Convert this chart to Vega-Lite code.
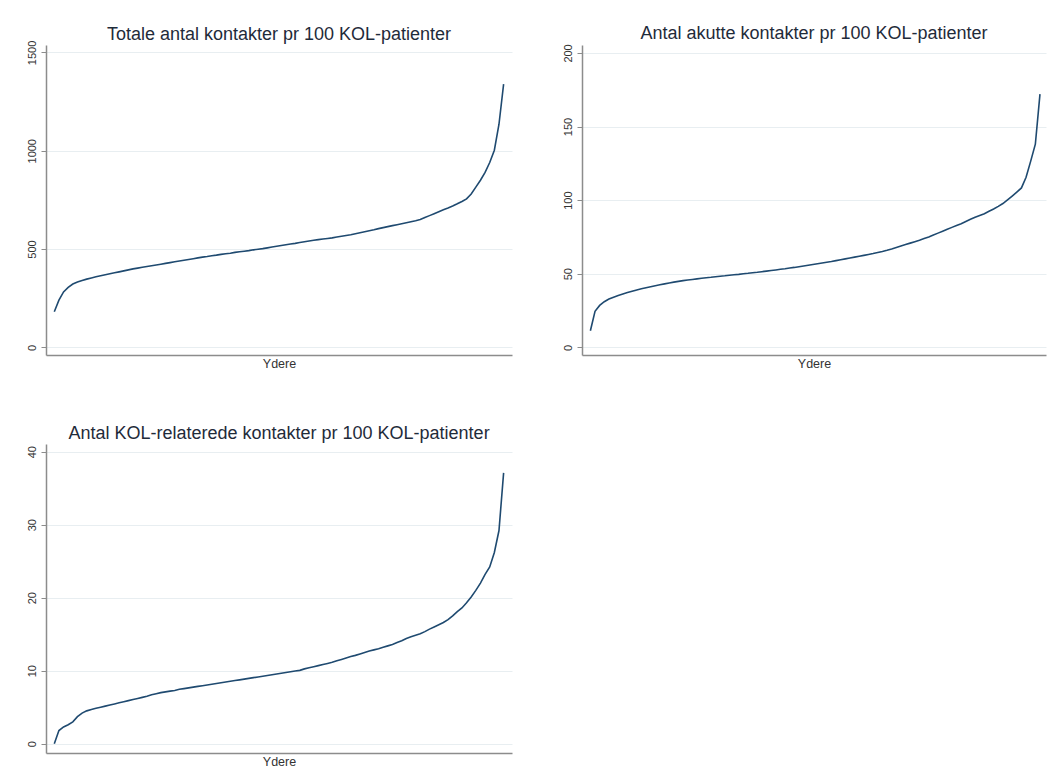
{
  "$schema": "https://vega.github.io/schema/vega-lite/v6.json",
  "background": "white",
  "padding": {"left": 26, "top": 24, "right": 5, "bottom": 5},
  "config": {
    "font": "Liberation Sans",
    "view": {"fill": "white", "stroke": null},
    "title": {"fontSize": 18, "fontWeight": "normal", "color": "#1f2b3a", "anchor": "middle", "frame": "group", "font": "Liberation Sans"},
    "axisY": {"labelAngle": -90, "labelFontSize": 11, "labelColor": "#333333", "labelPadding": 4, "tickSize": 5, "tickColor": "#8c8c8c", "domainColor": "#8c8c8c", "domainWidth": 1.5, "gridColor": "#e8eef1", "gridWidth": 1, "title": null, "labelFont": "Liberation Sans", "format": "d"},
    "axisX": {"labels": false, "ticks": false, "grid": false, "domainColor": "#8c8c8c", "domainWidth": 1.5, "titleFontSize": 12.5, "titleFontWeight": "normal", "titleColor": "#333333", "titlePadding": 2, "titleFont": "Liberation Sans"},
    "line": {"color": "#1f4a70", "strokeWidth": 1.6}
  },
  "data": {"values": [
    {"rang":1,"totale":181,"akutte":11.3,"kol":0},
    {"rang":2,"totale":240,"akutte":24.5,"kol":1.8},
    {"rang":3,"totale":282,"akutte":28.5,"kol":2.3},
    {"rang":4,"totale":305,"akutte":31,"kol":2.6},
    {"rang":5,"totale":322,"akutte":32.8,"kol":3.0},
    {"rang":6,"totale":332,"akutte":34,"kol":3.7},
    {"rang":7,"totale":340,"akutte":35.2,"kol":4.2},
    {"rang":8,"totale":347,"akutte":36.2,"kol":4.5},
    {"rang":9,"totale":353,"akutte":37.2,"kol":4.7},
    {"rang":10,"totale":359,"akutte":38.1,"kol":4.85},
    {"rang":11,"totale":364,"akutte":39,"kol":5.0},
    {"rang":12,"totale":369,"akutte":39.8,"kol":5.15},
    {"rang":13,"totale":374,"akutte":40.5,"kol":5.3},
    {"rang":14,"totale":379,"akutte":41.2,"kol":5.45},
    {"rang":15,"totale":384,"akutte":41.9,"kol":5.6},
    {"rang":16,"totale":389,"akutte":42.5,"kol":5.75},
    {"rang":17,"totale":394,"akutte":43.1,"kol":5.9},
    {"rang":18,"totale":399,"akutte":43.7,"kol":6.05},
    {"rang":19,"totale":403,"akutte":44.3,"kol":6.2},
    {"rang":20,"totale":407,"akutte":44.8,"kol":6.35},
    {"rang":21,"totale":411,"akutte":45.3,"kol":6.5},
    {"rang":22,"totale":415,"akutte":45.7,"kol":6.7},
    {"rang":23,"totale":419,"akutte":46.1,"kol":6.85},
    {"rang":24,"totale":423,"akutte":46.5,"kol":7.0},
    {"rang":25,"totale":427,"akutte":46.9,"kol":7.1},
    {"rang":26,"totale":431,"akutte":47.3,"kol":7.2},
    {"rang":27,"totale":435,"akutte":47.6,"kol":7.3},
    {"rang":28,"totale":439,"akutte":48,"kol":7.45},
    {"rang":29,"totale":443,"akutte":48.3,"kol":7.55},
    {"rang":30,"totale":447,"akutte":48.6,"kol":7.65},
    {"rang":31,"totale":451,"akutte":49,"kol":7.75},
    {"rang":32,"totale":455,"akutte":49.3,"kol":7.85},
    {"rang":33,"totale":459,"akutte":49.6,"kol":7.95},
    {"rang":34,"totale":462,"akutte":50,"kol":8.05},
    {"rang":35,"totale":466,"akutte":50.3,"kol":8.15},
    {"rang":36,"totale":469,"akutte":50.7,"kol":8.25},
    {"rang":37,"totale":473,"akutte":51,"kol":8.35},
    {"rang":38,"totale":476,"akutte":51.4,"kol":8.45},
    {"rang":39,"totale":479,"akutte":51.8,"kol":8.55},
    {"rang":40,"totale":483,"akutte":52.2,"kol":8.65},
    {"rang":41,"totale":486,"akutte":52.6,"kol":8.75},
    {"rang":42,"totale":489,"akutte":53,"kol":8.85},
    {"rang":43,"totale":492,"akutte":53.4,"kol":8.95},
    {"rang":44,"totale":496,"akutte":53.9,"kol":9.05},
    {"rang":45,"totale":499,"akutte":54.3,"kol":9.15},
    {"rang":46,"totale":502,"akutte":54.8,"kol":9.25},
    {"rang":47,"totale":506,"akutte":55.3,"kol":9.35},
    {"rang":48,"totale":510,"akutte":55.8,"kol":9.45},
    {"rang":49,"totale":514,"akutte":56.3,"kol":9.55},
    {"rang":50,"totale":518,"akutte":56.8,"kol":9.65},
    {"rang":51,"totale":522,"akutte":57.3,"kol":9.75},
    {"rang":52,"totale":526,"akutte":57.8,"kol":9.85},
    {"rang":53,"totale":529,"akutte":58.3,"kol":9.95},
    {"rang":54,"totale":533,"akutte":58.9,"kol":10.05},
    {"rang":55,"totale":537,"akutte":59.5,"kol":10.25},
    {"rang":56,"totale":541,"akutte":60.1,"kol":10.4},
    {"rang":57,"totale":545,"akutte":60.7,"kol":10.55},
    {"rang":58,"totale":548,"akutte":61.3,"kol":10.7},
    {"rang":59,"totale":551,"akutte":61.9,"kol":10.85},
    {"rang":60,"totale":554,"akutte":62.5,"kol":11.0},
    {"rang":61,"totale":557,"akutte":63.1,"kol":11.15},
    {"rang":62,"totale":561,"akutte":63.7,"kol":11.35},
    {"rang":63,"totale":565,"akutte":64.4,"kol":11.55},
    {"rang":64,"totale":569,"akutte":65.1,"kol":11.75},
    {"rang":65,"totale":573,"akutte":65.9,"kol":11.95},
    {"rang":66,"totale":578,"akutte":66.8,"kol":12.1},
    {"rang":67,"totale":583,"akutte":67.8,"kol":12.3},
    {"rang":68,"totale":588,"akutte":68.8,"kol":12.5},
    {"rang":69,"totale":593,"akutte":69.8,"kol":12.7},
    {"rang":70,"totale":598,"akutte":70.8,"kol":12.85},
    {"rang":71,"totale":604,"akutte":71.8,"kol":13.0},
    {"rang":72,"totale":609,"akutte":72.8,"kol":13.2},
    {"rang":73,"totale":614,"akutte":73.9,"kol":13.4},
    {"rang":74,"totale":619,"akutte":75,"kol":13.6},
    {"rang":75,"totale":624,"akutte":76.3,"kol":13.85},
    {"rang":76,"totale":629,"akutte":77.6,"kol":14.1},
    {"rang":77,"totale":634,"akutte":78.9,"kol":14.4},
    {"rang":78,"totale":639,"akutte":80.2,"kol":14.65},
    {"rang":79,"totale":644,"akutte":81.5,"kol":14.85},
    {"rang":80,"totale":650,"akutte":82.8,"kol":15.05},
    {"rang":81,"totale":660,"akutte":84,"kol":15.35},
    {"rang":82,"totale":670,"akutte":85.5,"kol":15.7},
    {"rang":83,"totale":680,"akutte":87,"kol":16.0},
    {"rang":84,"totale":690,"akutte":88.4,"kol":16.3},
    {"rang":85,"totale":700,"akutte":89.6,"kol":16.6},
    {"rang":86,"totale":709,"akutte":90.8,"kol":17.0},
    {"rang":87,"totale":719,"akutte":92.4,"kol":17.5},
    {"rang":88,"totale":730,"akutte":94,"kol":18.1},
    {"rang":89,"totale":742,"akutte":95.8,"kol":18.6},
    {"rang":90,"totale":755,"akutte":97.7,"kol":19.3},
    {"rang":91,"totale":780,"akutte":100.2,"kol":20.1},
    {"rang":92,"totale":815,"akutte":102.8,"kol":21.0},
    {"rang":93,"totale":850,"akutte":105.5,"kol":22.0},
    {"rang":94,"totale":890,"akutte":108.3,"kol":23.2},
    {"rang":95,"totale":940,"akutte":115.5,"kol":24.2},
    {"rang":96,"totale":1003,"akutte":126.5,"kol":26.2},
    {"rang":97,"totale":1135,"akutte":138,"kol":29.2},
    {"rang":98,"totale":1339,"akutte":172,"kol":37.1}
  ]},
  "spacing": 55,
  "vconcat": [
    {
      "spacing": 49,
      "hconcat": [
        {
          "title": {"text": "Totale antal kontakter pr 100 KOL-patienter", "offset": -4},
          "width": 466, "height": 310,
          "mark": {"type": "line", "clip": true},
          "encoding": {
            "x": {"field": "rang", "type": "quantitative", "scale": {"domain": [-0.79, 99.81], "nice": false, "zero": false}, "axis": {"title": "Ydere"}},
            "y": {"field": "totale", "type": "quantitative", "scale": {"domain": [-39, 1538], "nice": false}, "axis": {"values": [0, 500, 1000, 1500]}}
          }
        },
        {
          "title": {"text": "Antal akutte kontakter pr 100 KOL-patienter", "offset": 1},
          "width": 464, "height": 310,
          "mark": {"type": "line", "clip": true},
          "encoding": {
            "x": {"field": "rang", "type": "quantitative", "scale": {"domain": [-0.81, 99.3], "nice": false, "zero": false}, "axis": {"title": "Ydere"}},
            "y": {"field": "akutte", "type": "quantitative", "scale": {"domain": [-5.2, 205.4], "nice": false}, "axis": {"values": [0, 50, 100, 150, 200]}}
          }
        }
      ]
    },
    {
      "title": {"text": "Antal KOL-relaterede kontakter pr 100 KOL-patienter", "offset": 1},
      "width": 466, "height": 309,
      "mark": {"type": "line", "clip": true},
      "encoding": {
        "x": {"field": "rang", "type": "quantitative", "scale": {"domain": [-0.79, 99.81], "nice": false, "zero": false}, "axis": {"title": "Ydere"}},
        "y": {"field": "kol", "type": "quantitative", "scale": {"domain": [-1.27, 41.05], "nice": false}, "axis": {"values": [0, 10, 20, 30, 40]}}
      }
    }
  ]
}
